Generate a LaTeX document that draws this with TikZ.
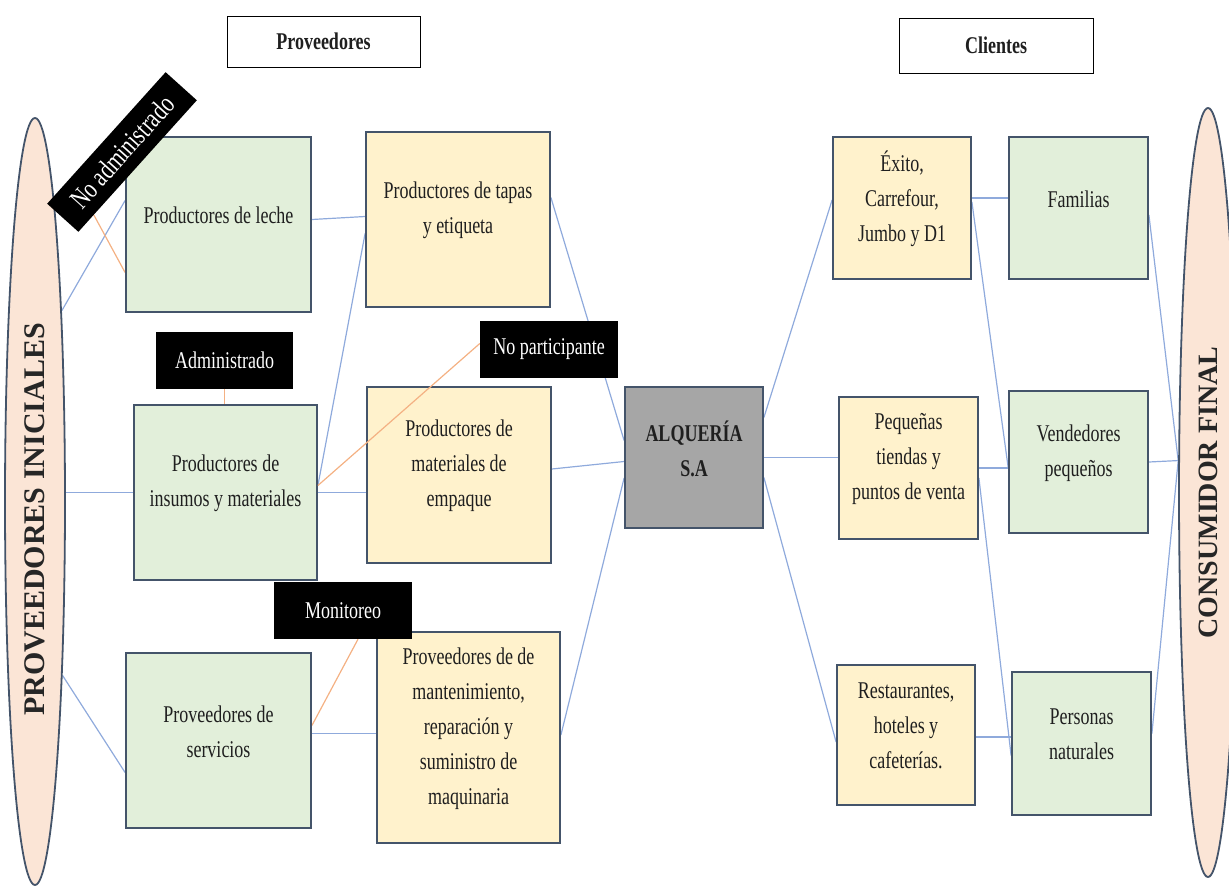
\documentclass[tikz,border=0pt]{standalone}
\usepackage{fontspec}
\setmainfont{Liberation Serif}[FakeStretch=0.75]
\newfontfamily\ellfont{Liberation Serif}
\usetikzlibrary{shapes.geometric,calc,backgrounds}
\pgfdeclarelayer{fg}
\pgfsetlayers{background,main,fg}
\definecolor{gfill}{HTML}{E2EFDA}
\definecolor{yfill}{HTML}{FFF2CC}
\definecolor{afill}{HTML}{A6A6A6}
\definecolor{bord}{HTML}{44546A}
\definecolor{conn}{HTML}{8FAADC}
\definecolor{orng}{HTML}{F4B183}
\definecolor{efill}{HTML}{FBE5D6}
\newcommand\tx[2]{\parbox[c][90pt][c]{#1}{\centering #2\par\vspace{18pt}}}
\begin{document}
\begin{tikzpicture}[x=1pt,y=-1pt,
  box/.style={draw=bord, line width=1.8pt, inner sep=0pt, font=\fontsize{24}{35}\selectfont, text=black!88},
  gbox/.style={box, fill=gfill},
  ybox/.style={box, fill=yfill},
  tag/.style={fill=black, text=white, inner sep=0pt, font=\fontsize{24}{30}\selectfont},
  head/.style={draw=black, line width=1pt, fill=white, inner sep=0pt, font=\fontsize{24}{30}\selectfont\bfseries, text=black!88},
  ell/.style={ellipse, draw=bord, line width=1.8pt, fill=efill, inner sep=0pt, text=black!85, font=\ellfont\fontsize{30}{36}\selectfont\bfseries},
  link/.style={draw=conn, line width=1.2pt},
  olink/.style={draw=orng, line width=1.2pt}]
\useasboundingbox (0,0) rectangle (1229,886);

% side ellipses
\node[ell, minimum width=60pt, minimum height=767pt] (ini) at (35,501.5) {\rotatebox{90}{PROVEEDORES INICIALES\hspace{36pt}}};
\node[ell, minimum width=58pt, minimum height=769pt] (cons) at (1208,492.5) {\rotatebox{90}{\fontsize{28}{34}\selectfont CONSUMIDOR FINAL}};

% headers
\node[head, minimum width=193pt, minimum height=51pt] (prov) at (323.5,41.5) {Proveedores};
\node[head, minimum width=194pt, minimum height=55pt] (cli) at (996,45.5) {Clientes};

% left column
\node[gbox, minimum width=185pt, minimum height=175pt] (leche) at (218.5,224.5) {\tx{170pt}{Productores de leche}};
\node[gbox, minimum width=183pt, minimum height=175pt] (insumos) at (225.5,492.5) {\tx{170pt}{Productores de\\insumos y materiales}};
\node[gbox, minimum width=185pt, minimum height=175pt] (servicios) at (218.5,740.5) {\tx{170pt}{Proveedores de\\servicios}};

% middle column
\node[ybox, minimum width=184pt, minimum height=175pt] (tapas) at (458,219.5) {\tx{170pt}{Productores de tapas\\y etiqueta}};
\node[ybox, minimum width=184pt, minimum height=176pt] (empaque) at (459,475) {\tx{170pt}{Productores de\\materiales de\\empaque}};
\node[ybox, minimum width=183pt, minimum height=211pt] (mant) at (468.5,737.5) {\tx{170pt}{Proveedores de de\\mantenimiento,\\reparación y\\suministro de\\maquinaria}};

% center
\node[box, fill=afill, minimum width=138pt, minimum height=141pt] (alq) at (694,457.5) {\tx{130pt}{\bfseries ALQUERÍA\\S.A}};

% clients
\node[ybox, minimum width=138pt, minimum height=142pt] (exito) at (902,208) {\tx{130pt}{Éxito,\\Carrefour,\\Jumbo y D1}};
\node[ybox, minimum width=139pt, minimum height=142pt] (pequenas) at (908.5,468) {\tx{130pt}{Pequeñas\\tiendas y\\puntos de venta}};
\node[ybox, minimum width=138pt, minimum height=140pt] (rest) at (906,735) {\tx{130pt}{Restaurantes,\\hoteles y\\cafeterías.}};

% final column
\node[gbox, minimum width=139pt, minimum height=142pt] (familias) at (1078.5,208) {\tx{130pt}{Familias}};
\node[gbox, minimum width=139pt, minimum height=142pt] (vend) at (1078.5,462) {\tx{130pt}{Vendedores\\pequeños}};
\node[gbox, minimum width=139pt, minimum height=143pt] (personas) at (1081.5,743.5) {\tx{130pt}{Personas\\naturales}};

% black tags (on top of everything)
\begin{pgfonlayer}{fg}
\node[tag, minimum width=137pt, minimum height=57pt] (adm) at (224.5,360.5) {Administrado};
\node[tag, minimum width=138pt, minimum height=57pt] (nopart) at (549,349.5) {No participante};
\node[tag, minimum width=138pt, minimum height=57pt] (monit) at (343,610.5) {Monitoreo};
\node[tag, minimum width=177pt, minimum height=42pt, rotate=48, font=\fontsize{28}{30}\selectfont] (noadm) at (122,152) {No administrado};
\end{pgfonlayer}

% orange line crossing over the packaging box
\draw[olink] ([yshift=7pt]insumos.east) -- ([yshift=6pt]nopart.west);

\begin{scope}[on background layer]
  % initial suppliers
  \draw[link] (ini.82.4) -- ([yshift=24pt]leche.west);
  \draw[link] (insumos.west) -- (insumos.west -| ini.east);
  \draw[link] (ini.-81) -- ([yshift=-32pt]servicios.west);
  % to middle column
  \draw[link] ([yshift=5pt]leche.east) -- ([yshift=3pt]tapas.west);
  \draw[link] ([yshift=7pt]insumos.east) -- ([yshift=-14pt]tapas.west);
  \draw[link] (insumos.east) -- (insumos.east -| empaque.west);
  \path ([yshift=7pt]servicios.east) coordinate (s1);
  \draw[link] (s1) -- (s1 -| mant.west);
  % to ALQUERIA
  \draw[link] ([yshift=22pt]tapas.east) -- ([yshift=17pt]alq.west);
  \draw[link] ([yshift=6pt]empaque.east) -- ([yshift=-4pt]alq.west);
  \draw[link] ([yshift=2.5pt]mant.east) -- ([yshift=-20.5pt]alq.west);
  % from ALQUERIA
  \draw[link] ([yshift=40pt]alq.east) -- ([yshift=8pt]exito.west);
  \draw[link] (alq.east) -- (alq.east -| pequenas.west);
  \draw[link] ([yshift=-20pt]alq.east) -- ([yshift=-7pt]rest.west);
  % clients to final
  \path ([yshift=10pt]exito.east) coordinate (e1);
  \draw[link] (e1) -- (e1 -| familias.west);
  \draw[link] ([yshift=6pt]exito.east) -- ([yshift=-5pt]vend.west);
  \draw[link] (pequenas.east) -- (pequenas.east -| vend.west);
  \draw[link] ([yshift=-10pt]pequenas.east) -- ([yshift=-12pt]personas.west);
  \coordinate (rx) at ($(rest.center)+(49,2)$);
  \draw[link] (rx) -- (rx -| personas.west);
  % to final consumer
  \draw[link] ([yshift=-7pt]familias.east) -- (cons.133.5);
  \draw[link] (vend.east) -- (cons.133.5);
  \draw[link] ([yshift=10pt]personas.east) -- (cons.133.5);
  % orange relations
  \draw[olink] ($(noadm.south west)!0.13!(noadm.south east)$) -- ([yshift=-48pt]leche.west);
  \draw[olink] (adm.south) -- (adm.south |- insumos.north);
  \draw[olink] ([yshift=15pt]servicios.east) -- ([xshift=15pt]monit.south);
\end{scope}
\end{tikzpicture}
\end{document}
